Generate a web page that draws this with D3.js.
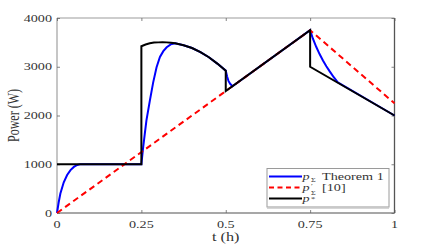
<!DOCTYPE html>
<html><head><meta charset="utf-8">
<script src="https://cdn.jsdelivr.net/npm/d3@7"></script>
<style>
html,body{margin:0;padding:0;background:#fff;}
svg{display:block;}
text{font-family:"Liberation Serif","Times New Roman",serif;fill:#333;}
</style></head>
<body><svg id="c" width="436" height="245"></svg>
<script>
// ---- data ----
const xTicks = [0, 0.25, 0.5, 0.75, 1];
const xTickLabels = ["0", "0.25", "0.5", "0.75", "1"];
const yTicks = [0, 1000, 2000, 3000, 4000];
const yTickLabels = ["0", "1000", "2000", "3000", "4000"];

const tBlue = [0,0.005,0.01,0.02,0.03,0.04,0.05,0.06,0.068,0.25,0.255,0.26,0.265,0.275,0.285,0.295,0.305,0.315,0.325,0.337,0.35,0.375,0.4,0.425,0.45,0.475,0.5,0.504,0.508,0.513,0.52,0.75,0.758,0.768,0.778,0.788,0.798,0.808,0.82,0.832,1];
const pBlue = [0,220,400,630,780,880,945,985,1000,1000,1330,1620,1900,2300,2680,2990,3200,3320,3400,3460,3480,3440,3385,3300,3195,3065,2920,2800,2710,2650,2600,3750,3580,3410,3260,3130,3010,2905,2785,2680,2000];

const tRed = [0, 0.75, 1];
const pRed = [0, 3750, 2250];

const tStar = [0,0.25,0.25,0.2625,0.275,0.2875,0.3,0.3125,0.325,0.3375,0.35,0.375,0.4,0.425,0.45,0.475,0.5,0.5,0.75,0.75,1];
const pStar = [1000,1000,3420,3455,3480,3495,3500,3503,3500,3492,3480,3440,3385,3300,3195,3065,2920,2500,3750,3000,2000];

const xLabel = "t (h)";
const yLabel = "Power (W)";

// ---- layout ----
const L = 57, R = 394.5, T = 18, B = 213;
const SX = 1.35; // horizontal stretch of glyphs in the reference
const svg = d3.select("#c");
const x = d3.scaleLinear().domain([0, 1]).range([L, R]);
const y = d3.scaleLinear().domain([0, 4000]).range([B, T]);

function stext(g, px, py, anchor, size, str) {
  return g.append("text")
    .attr("transform", `translate(${px},${py}) scale(${SX},1)`)
    .attr("text-anchor", anchor)
    .attr("font-size", size)
    .text(str);
}

// frame
svg.append("line").attr("x1", L).attr("x2", R).attr("y1", T).attr("y2", T).attr("stroke", "#bdbdbd").attr("stroke-width", 1.3);
svg.append("line").attr("x1", L).attr("x2", L).attr("y1", T).attr("y2", B).attr("stroke", "#a8a8a8").attr("stroke-width", 1.3);
svg.append("line").attr("x1", L).attr("x2", R).attr("y1", B).attr("y2", B).attr("stroke", "#8a8a8a").attr("stroke-width", 1.3);
svg.append("line").attr("x1", R).attr("x2", R).attr("y1", T).attr("y2", B).attr("stroke", "#555").attr("stroke-width", 1.3);

function styleAxis(g) {
  g.select(".domain").remove();
  g.selectAll(".tick line").attr("stroke", "#666").attr("stroke-width", 0.8);
  g.selectAll(".tick text").remove();
}
svg.append("g").attr("transform", `translate(0,${B})`)
  .call(d3.axisBottom(x).tickValues(xTicks).tickSize(-3)).call(styleAxis);
svg.append("g").attr("transform", `translate(0,${T})`)
  .call(d3.axisTop(x).tickValues(xTicks).tickSize(-3)).call(styleAxis);
svg.append("g").attr("transform", `translate(${L},0)`)
  .call(d3.axisLeft(y).tickValues(yTicks).tickSize(-3)).call(styleAxis);
svg.append("g").attr("transform", `translate(${R},0)`)
  .call(d3.axisRight(y).tickValues(yTicks).tickSize(-3)).call(styleAxis);

// tick labels
const lab = svg.append("g");
xTicks.forEach((v, i) => stext(lab, x(v), 228, "middle", 10.5, xTickLabels[i]));
yTicks.forEach((v, i) => stext(lab, 52, y(v) + 3.6, "end", 10.5, yTickLabels[i]));

// axis titles
stext(lab, (L + R) / 2, 240.5, "middle", 12, xLabel);
lab.append("text").attr("transform", `translate(19,${(T + B) / 2}) rotate(-90) scale(1,${SX})`)
  .attr("text-anchor", "middle").attr("font-size", 12).text(yLabel);

// lines
const line = d3.line().x(d => x(d[0])).y(d => y(d[1]));
const plot = svg.append("g");
plot.append("path").datum(d3.zip(tBlue, pBlue)).attr("d", line)
  .attr("fill", "none").attr("stroke", "#0000ff").attr("stroke-width", 2);
plot.append("path").datum(d3.zip(tRed, pRed)).attr("d", line)
  .attr("fill", "none").attr("stroke", "#ff0000").attr("stroke-width", 2).attr("stroke-dasharray", "6,4");
plot.append("path").datum(d3.zip(tStar, pStar)).attr("d", line)
  .attr("fill", "none").attr("stroke", "#000").attr("stroke-width", 2).attr("stroke-linejoin", "miter");

// legend
const lg = svg.append("g");
const lx0 = 267, lx1 = 389, ly0 = 168.5, ly1 = 207;
lg.append("rect").attr("x", lx0).attr("y", ly0).attr("width", lx1 - lx0).attr("height", ly1 - ly0)
  .attr("fill", "#fff").attr("stroke", "#9a9a9a").attr("stroke-width", 1);
lg.append("line").attr("x1", lx0).attr("x2", lx1).attr("y1", ly1 + 0.8).attr("y2", ly1 + 0.8).attr("stroke", "#c8c8c8").attr("stroke-width", 2);
const entries = [
  {c: "#0000ff", d: null, y: 176.5},
  {c: "#ff0000", d: "5,3.5", y: 187.5},
  {c: "#000", d: null, y: 198.5}
];
entries.forEach(e => {
  lg.append("line").attr("x1", 269).attr("x2", 302).attr("y1", e.y).attr("y2", e.y)
    .attr("stroke", e.c).attr("stroke-width", 2).attr("stroke-dasharray", e.d);
});
// all legend labels in one text element (math-style scripts as tspans)
const X0 = 302.5;
const lt = lg.append("text").attr("transform", `translate(${X0},0) scale(${SX},1)`).attr("font-size", 10.5);
function part(px, py, str, opts = {}) {
  const s = lt.append("tspan").attr("x", (px - X0) / SX).attr("y", py).text(str);
  if (opts.it) s.attr("font-style", "italic");
  if (opts.size) s.attr("font-size", opts.size);
}
part(302.5, 180, "p", {it: true});
part(311, 182, "Σ", {size: 6});
part(322, 180, "Theorem 1");
part(302.5, 191, "p", {it: true});
part(311, 188, "′", {size: 6});
part(311, 194.8, "Σ", {size: 6});
part(322, 191, "[10]");
part(302.5, 202, "p", {it: true});
part(311, 201, "*", {size: 6.5});
</script></body></html>
